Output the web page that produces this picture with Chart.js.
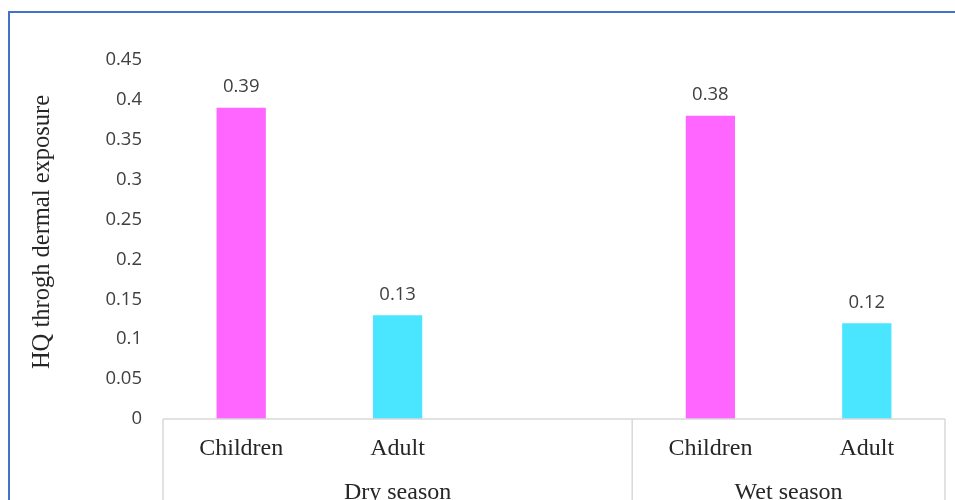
<!DOCTYPE html>
<html>
<head>
<meta charset="utf-8">
<script src="https://cdn.jsdelivr.net/npm/chart.js@4"></script>
<style>
    body { margin: 0; background: #fff; }
    #wrap { position: relative; width: 955px; height: 500px; overflow: hidden; }
    #frame {
        position: absolute; left: 8px; top: 11px; width: 1000px; height: 600px;
        border-top: 2px solid #4472C4; border-left: 2px solid #4472C4;
    }
    canvas { position: absolute; left: 0; top: 0; }
</style>
</head>
<body>
<div id="wrap">
    <div id="frame"></div>
    <canvas id="hqChart" width="955" height="500"></canvas>
</div>
<script>
// categories (blank slot keeps the gap after the dry season group)
const categories = ['Children', 'Adult', '', 'Children', 'Adult'];
const seasonGroups = [
    { label: 'Dry season', from: 0, to: 2 },
    { label: 'Wet season', from: 3, to: 4 }
];
const hqValues = [0.39, 0.13, null, 0.38, 0.12];
const barColors = ['#FF66FF', '#4AE6FF', '#FFFFFF', '#FF66FF', '#4AE6FF'];
const yTicks = [0, 0.05, 0.1, 0.15, 0.2, 0.25, 0.3, 0.35, 0.4, 0.45];
const yTitle = 'HQ throgh dermal exposure';

const serif = '"Liberation Serif", "Times New Roman", serif';
const sans = '"Open Sans", "Noto Sans", sans-serif';

// value labels above bars
const valueLabels = {
    id: 'valueLabels',
    afterDatasetsDraw(chart) {
        const { ctx } = chart;
        const meta = chart.getDatasetMeta(0);
        ctx.save();
        ctx.font = '18.5px ' + sans;
        ctx.fillStyle = '#404040';
        ctx.textAlign = 'center';
        ctx.textBaseline = 'middle';
        meta.data.forEach((bar, i) => {
            const v = hqValues[i];
            if (v === null) return;
            ctx.fillText(String(v), bar.x, bar.y - 21);
        });
        ctx.restore();
    }
};

// two-level category axis + rotated y title
const groupAxis = {
    id: 'groupAxis',
    afterDraw(chart) {
        const { ctx, chartArea } = chart;
        const x = chart.scales.x;
        const slot = (chartArea.right - chartArea.left) / categories.length;
        const base = chartArea.bottom;
        ctx.save();
        ctx.strokeStyle = '#D9D9D9';
        ctx.lineWidth = 1.5;
        ctx.beginPath();
        ctx.moveTo(chartArea.left, base);
        ctx.lineTo(chartArea.right, base);
        seasonGroups.forEach(g => {
            const l = x.getPixelForValue(g.from) - slot / 2;
            const r = x.getPixelForValue(g.to) + slot / 2;
            ctx.moveTo(l, base);
            ctx.lineTo(l, chart.height);
            ctx.moveTo(r, base);
            ctx.lineTo(r, chart.height);
        });
        ctx.stroke();

        ctx.fillStyle = '#262626';
        ctx.textAlign = 'center';
        ctx.textBaseline = 'alphabetic';
        ctx.font = '24px ' + serif;
        categories.forEach((c, i) => {
            if (!c) return;
            ctx.fillText(c, x.getPixelForValue(i), base + 36);
        });
        seasonGroups.forEach(g => {
            const l = x.getPixelForValue(g.from) - slot / 2;
            const r = x.getPixelForValue(g.to) + slot / 2;
            ctx.fillText(g.label, (l + r) / 2, base + 80);
        });

        ctx.translate(43, 232);
        ctx.rotate(-Math.PI / 2);
        ctx.textBaseline = 'middle';
        ctx.font = '24.5px ' + serif;
        ctx.fillText(yTitle, 0, 0);
        ctx.restore();
    }
};

new Chart(document.getElementById('hqChart').getContext('2d'), {
    type: 'bar',
    data: {
        labels: categories,
        datasets: [{
            data: hqValues,
            backgroundColor: barColors,
            barPercentage: 0.315,
            categoryPercentage: 1
        }]
    },
    options: {
        responsive: false,
        animation: false,
        layout: { padding: { top: 60, right: 10, bottom: 0, left: 0 } },
        plugins: { legend: { display: false }, tooltip: { enabled: false } },
        scales: {
            x: {
                grid: { display: false },
                border: { display: false },
                ticks: { display: false },
                afterFit(scale) { scale.height = 81; }
            },
            y: {
                min: 0,
                max: 0.45,
                grid: { display: false, drawTicks: false },
                border: { display: false },
                afterBuildTicks(scale) { scale.ticks = yTicks.map(v => ({ value: v })); },
                afterFit(scale) { scale.width = 163; },
                ticks: {
                    padding: 21,
                    color: '#404040',
                    font: { family: sans, size: 18.5 },
                    callback: v => String(Number(v.toFixed(2)))
                }
            }
        }
    },
    plugins: [valueLabels, groupAxis]
});
</script>
</body>
</html>
